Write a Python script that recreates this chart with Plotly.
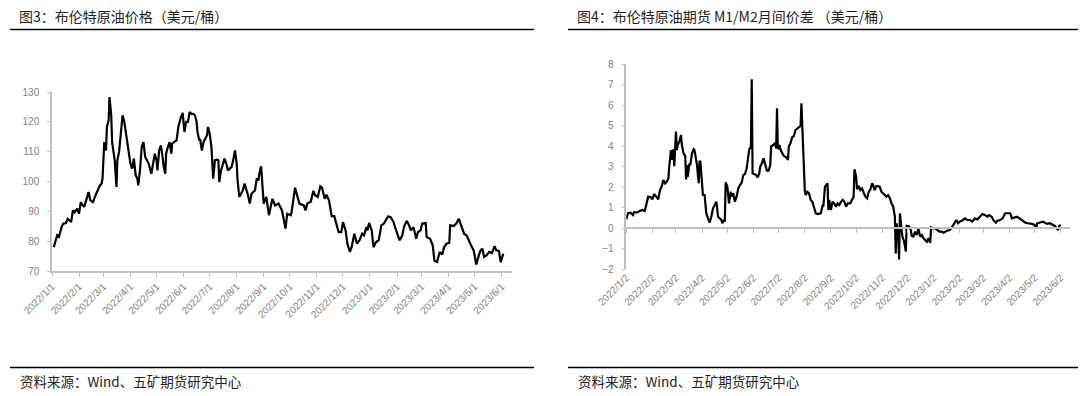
import plotly.graph_objects as go

# ---------------- data ----------------
brent_dates = [
    "2022-01-03","2022-01-05","2022-01-07","2022-01-09","2022-01-11","2022-01-12","2022-01-14","2022-01-17",
    "2022-01-19","2022-01-21","2022-01-23","2022-01-25","2022-01-27","2022-01-30","2022-02-01","2022-02-03",
    "2022-02-04","2022-02-07","2022-02-09","2022-02-12","2022-02-14","2022-02-17","2022-02-20","2022-02-22",
    "2022-02-25","2022-02-27","2022-02-28","2022-03-02","2022-03-04","2022-03-05","2022-03-07","2022-03-08",
    "2022-03-10","2022-03-11","2022-03-13","2022-03-14","2022-03-16","2022-03-17","2022-03-19","2022-03-21",
    "2022-03-23","2022-03-25","2022-03-27","2022-03-28","2022-03-30","2022-04-01","2022-04-03","2022-04-05",
    "2022-04-07","2022-04-09","2022-04-10","2022-04-12","2022-04-14","2022-04-16","2022-04-18","2022-04-20",
    "2022-04-22","2022-04-25","2022-04-27","2022-04-29","2022-05-01","2022-05-02","2022-05-04","2022-05-06",
    "2022-05-08","2022-05-09","2022-05-11","2022-05-12","2022-05-14","2022-05-16","2022-05-18","2022-05-19",
    "2022-05-21","2022-05-24","2022-05-26","2022-05-28","2022-05-29","2022-05-31","2022-06-02","2022-06-04",
    "2022-06-06","2022-06-08","2022-06-10","2022-06-12","2022-06-14","2022-06-16","2022-06-17","2022-06-19",
    "2022-06-20","2022-06-22","2022-06-24","2022-06-26","2022-06-28","2022-06-29","2022-07-01","2022-07-03",
    "2022-07-05","2022-07-07","2022-07-09","2022-07-11","2022-07-12","2022-07-14","2022-07-16","2022-07-18",
    "2022-07-20","2022-07-22","2022-07-24","2022-07-26","2022-07-28","2022-07-30","2022-08-01","2022-08-02",
    "2022-08-04","2022-08-06","2022-08-08","2022-08-10","2022-08-12","2022-08-14","2022-08-16","2022-08-18",
    "2022-08-20","2022-08-22","2022-08-24","2022-08-26","2022-08-27","2022-08-29","2022-09-01","2022-09-04",
    "2022-09-07","2022-09-11","2022-09-14","2022-09-18","2022-09-22","2022-09-26","2022-09-28","2022-10-02",
    "2022-10-03","2022-10-07","2022-10-12","2022-10-17","2022-10-19","2022-10-21","2022-10-25","2022-10-28",
    "2022-10-30","2022-11-02","2022-11-05","2022-11-07","2022-11-10","2022-11-12","2022-11-15","2022-11-18",
    "2022-11-21","2022-11-23","2022-11-26","2022-11-29","2022-12-01","2022-12-04","2022-12-06","2022-12-09",
    "2022-12-11","2022-12-14","2022-12-17","2022-12-20","2022-12-23","2022-12-25","2022-12-28","2022-12-29",
    "2022-12-31","2023-01-03","2023-01-05","2023-01-08","2023-01-11","2023-01-14","2023-01-17","2023-01-20",
    "2023-01-22","2023-01-25","2023-01-28","2023-01-31","2023-02-04","2023-02-07","2023-02-09","2023-02-12",
    "2023-02-14","2023-02-17","2023-02-20","2023-02-23","2023-02-25","2023-02-28","2023-03-02","2023-03-06",
    "2023-03-07","2023-03-11","2023-03-14","2023-03-16","2023-03-19","2023-03-22","2023-03-25","2023-03-27",
    "2023-03-30","2023-04-02","2023-04-03","2023-04-07","2023-04-10","2023-04-13","2023-04-15","2023-04-17",
    "2023-04-19","2023-04-22","2023-04-25","2023-04-27","2023-04-30","2023-05-03","2023-05-06","2023-05-08",
    "2023-05-10","2023-05-12","2023-05-15","2023-05-18","2023-05-21","2023-05-24","2023-05-26","2023-05-29",
    "2023-05-31","2023-06-03",
]
brent_price = [
    78.0,80.3,82.0,81.5,83.9,84.7,85.9,86.1,
    87.5,87.0,86.4,90.3,89.7,90.9,89.2,93.1,
    92.5,91.5,93.7,96.5,93.7,93.1,95.4,97.0,
    98.7,99.3,101.0,113.2,110.4,118.3,120.5,128.3,
    122.2,113.2,109.9,107.1,98.2,107.1,109.9,116.0,
    122.2,120.0,115.5,113.2,110.4,106.0,104.3,107.7,
    102.1,101.0,98.7,103.7,111.6,113.2,108.2,107.3,
    106.0,102.6,106.0,109.3,107.1,103.7,110.4,112.1,
    108.2,105.4,102.6,109.3,111.6,113.2,109.3,112.7,
    113.2,113.8,118.3,121.1,121.6,123.0,116.6,120.0,
    120.0,123.3,122.7,122.7,122.2,120.0,116.6,113.8,
    114.2,110.4,113.2,114.4,115.5,118.3,116.0,111.6,
    101.0,107.1,107.3,107.1,99.8,103.7,106.0,107.7,
    106.0,103.7,104.3,104.8,107.1,110.4,106.0,100.4,
    94.8,95.9,97.0,99.3,97.6,95.4,92.6,95.9,
    96.5,97.0,101.0,100.4,102.6,105.1,92.6,94.8,
    88.7,94.2,92.0,92.6,90.3,84.2,89.2,88.7,
    89.8,97.9,92.6,92.0,90.3,92.6,93.2,96.8,
    95.4,94.8,98.4,97.9,94.2,95.6,93.6,88.4,
    88.4,85.9,83.0,83.0,86.4,83.6,79.2,76.4,
    78.1,82.5,79.2,80.3,82.5,81.9,84.7,83.6,
    86.1,83.6,78.0,79.7,80.3,85.3,85.9,87.5,
    88.3,88.0,86.4,83.6,80.3,81.9,84.7,86.8,
    85.9,83.6,84.7,80.8,83.0,83.6,85.9,86.1,
    81.4,80.8,78.6,73.4,73.0,76.4,75.5,78.0,
    79.2,79.4,85.3,85.1,85.9,87.5,85.9,84.2,
    82.5,81.9,79.7,78.6,76.9,72.2,75.3,76.9,
    77.5,74.7,75.3,76.4,76.0,78.3,76.9,76.7,
    73.0,75.8,
]

spread_dates = [
    "2022-01-02","2022-01-04","2022-01-07","2022-01-10","2022-01-11","2022-01-15","2022-01-18","2022-01-21",
    "2022-01-24","2022-01-26","2022-01-28","2022-01-31","2022-02-02","2022-02-04","2022-02-07","2022-02-09",
    "2022-02-11","2022-02-13","2022-02-15","2022-02-17","2022-02-19","2022-02-21","2022-02-22","2022-02-24",
    "2022-02-25","2022-02-27","2022-02-28","2022-03-02","2022-03-03","2022-03-04","2022-03-06","2022-03-08",
    "2022-03-09","2022-03-11","2022-03-13","2022-03-14","2022-03-15","2022-03-16","2022-03-18","2022-03-19",
    "2022-03-21","2022-03-23","2022-03-24","2022-03-26","2022-03-27","2022-03-29","2022-03-30","2022-03-31",
    "2022-04-02","2022-04-03","2022-04-05","2022-04-06","2022-04-07","2022-04-09","2022-04-11","2022-04-13",
    "2022-04-15","2022-04-17","2022-04-19","2022-04-21","2022-04-23","2022-04-25","2022-04-26","2022-04-28",
    "2022-04-29","2022-04-30","2022-05-02","2022-05-04","2022-05-06","2022-05-07","2022-05-09","2022-05-11",
    "2022-05-13","2022-05-15","2022-05-17","2022-05-19","2022-05-21","2022-05-23","2022-05-25","2022-05-26",
    "2022-05-28","2022-05-30","2022-05-31","2022-06-01","2022-06-03","2022-06-05","2022-06-07","2022-06-09",
    "2022-06-10","2022-06-12","2022-06-14","2022-06-16","2022-06-18","2022-06-20","2022-06-22","2022-06-23",
    "2022-06-26","2022-06-28","2022-06-29","2022-06-30","2022-07-01","2022-07-03","2022-07-04","2022-07-06",
    "2022-07-08","2022-07-11","2022-07-13","2022-07-14","2022-07-16","2022-07-18","2022-07-20","2022-07-22",
    "2022-07-24","2022-07-27","2022-07-28","2022-07-29","2022-07-30","2022-08-01","2022-08-02","2022-08-03",
    "2022-08-05","2022-08-07","2022-08-09","2022-08-11","2022-08-13","2022-08-15","2022-08-17","2022-08-19",
    "2022-08-21","2022-08-23","2022-08-24","2022-08-26","2022-08-28","2022-08-29","2022-08-30","2022-08-31",
    "2022-09-02","2022-09-04","2022-09-06","2022-09-08","2022-09-10","2022-09-12","2022-09-14","2022-09-16",
    "2022-09-18","2022-09-20","2022-09-22","2022-09-25","2022-09-27","2022-09-29","2022-09-30","2022-10-02",
    "2022-10-03","2022-10-05","2022-10-07","2022-10-09","2022-10-11","2022-10-13","2022-10-15","2022-10-17",
    "2022-10-19","2022-10-21","2022-10-22","2022-10-24","2022-10-26","2022-10-28","2022-10-30","2022-11-01",
    "2022-11-03","2022-11-05","2022-11-07","2022-11-09","2022-11-11","2022-11-13","2022-11-15","2022-11-17",
    "2022-11-18","2022-11-19","2022-11-21","2022-11-22","2022-11-23","2022-11-25","2022-11-26","2022-11-28",
    "2022-11-30","2022-12-01","2022-12-02","2022-12-04","2022-12-06","2022-12-07","2022-12-09","2022-12-11",
    "2022-12-13","2022-12-15","2022-12-17","2022-12-19","2022-12-21","2022-12-23","2022-12-25","2022-12-27",
    "2022-12-29","2022-12-30","2023-01-01","2023-01-04","2023-01-06","2023-01-09","2023-01-12","2023-01-14",
    "2023-01-18","2023-01-21","2023-01-23","2023-01-25","2023-01-27","2023-01-29","2023-01-31","2023-02-02",
    "2023-02-06","2023-02-08","2023-02-11","2023-02-14","2023-02-17","2023-02-20","2023-02-23","2023-02-26",
    "2023-03-01","2023-03-04","2023-03-07","2023-03-09","2023-03-12","2023-03-14","2023-03-17","2023-03-19",
    "2023-03-22","2023-03-25","2023-03-28","2023-03-31","2023-04-03","2023-04-05","2023-04-08","2023-04-11",
    "2023-04-14","2023-04-16","2023-04-19","2023-04-21","2023-04-24","2023-04-27","2023-04-29","2023-05-02",
    "2023-05-04","2023-05-05","2023-05-08","2023-05-12","2023-05-14","2023-05-17","2023-05-20","2023-05-23",
    "2023-05-26","2023-05-28","2023-05-30","2023-05-31","2023-06-02",
]
spread_value = [
    0.42,0.72,0.75,0.63,0.76,0.76,0.83,0.88,
    0.83,1.20,1.53,1.50,1.40,1.66,1.50,1.40,
    1.85,2.02,2.34,2.18,2.26,2.42,2.99,3.80,
    3.32,3.84,3.02,4.70,3.80,4.05,4.21,4.54,
    4.05,3.64,3.51,2.37,3.07,2.50,3.15,3.07,
    3.64,3.84,3.80,3.32,3.07,2.18,3.24,3.24,
    2.02,1.61,1.61,1.12,0.72,0.47,0.26,0.55,
    0.96,1.12,1.28,0.55,0.47,0.39,0.23,0.36,
    0.31,2.23,2.02,1.20,1.77,1.53,1.69,1.28,
    1.53,1.93,2.10,2.21,2.59,2.63,2.91,3.32,
    3.84,3.97,7.25,2.67,2.64,2.59,2.47,2.67,
    2.99,3.15,3.40,3.07,2.80,2.80,3.07,3.97,
    4.05,4.13,3.89,5.84,3.84,4.05,3.84,3.64,
    3.51,3.45,3.32,3.97,4.13,4.42,4.49,4.78,
    4.86,4.94,4.98,6.08,4.94,3.07,1.85,1.61,
    1.77,1.69,1.37,1.28,1.04,0.72,0.68,0.72,
    0.72,1.07,1.04,2.02,2.15,2.18,0.88,1.37,
    0.88,1.28,1.20,1.04,1.20,1.12,1.28,1.37,
    1.28,1.04,1.20,1.20,1.37,1.53,2.86,2.50,
    1.89,2.05,1.85,1.93,1.72,1.53,1.45,1.77,
    1.89,2.18,2.10,1.85,2.05,2.02,2.02,1.77,
    1.69,1.66,1.53,1.60,1.45,1.20,1.04,0.55,
    -1.24,0.23,-0.42,-1.53,0.72,-0.10,-0.42,-0.67,
    -1.15,0.10,0.10,0.07,-0.10,-0.39,-0.42,-0.18,
    -0.34,-0.02,-0.42,-0.34,-0.50,-0.59,-0.67,-0.50,
    -0.72,0.03,-0.02,-0.02,-0.10,-0.18,-0.18,-0.23,
    -0.13,-0.10,-0.02,0.10,0.23,0.39,0.23,0.31,
    0.39,0.47,0.39,0.39,0.31,0.47,0.42,0.55,
    0.68,0.63,0.55,0.63,0.55,0.39,0.26,0.36,
    0.39,0.47,0.72,0.72,0.72,0.47,0.50,0.55,
    0.47,0.42,0.31,0.26,0.23,0.23,0.20,0.15,
    -0.02,0.23,0.26,0.31,0.26,0.20,0.23,0.15,
    0.10,-0.02,-0.10,0.10,0.15,
]

title_left = "图3：布伦特原油价格（美元/桶）"
title_right = "图4：布伦特原油期货 M1/M2月间价差 （美元/桶）"
source_text = "资料来源：Wind、五矿期货研究中心"

# ---------------- styling ----------------
W, H = 1080, 396
CJK = "Noto Sans CJK SC"
AX_FONT = dict(family="Liberation Sans, Arial", size=10, color="#7f7f7f")
AX_COLOR = "#bfbfbf"

def px_x(x):
    return x / W

def px_y(y):
    return 1 - y / H

fig = go.Figure()

fig.add_trace(go.Scatter(
    x=brent_dates, y=brent_price, mode="lines",
    line=dict(color="#000000", width=2.2), xaxis="x", yaxis="y",
    showlegend=False, hoverinfo="x+y"))

fig.add_trace(go.Scatter(
    x=spread_dates, y=spread_value, mode="lines",
    line=dict(color="#000000", width=2.2), xaxis="x2", yaxis="y2",
    showlegend=False, hoverinfo="x+y"))

# helper trace to carry the bottom tick labels of the right chart
fig.add_trace(go.Scatter(
    x=spread_dates[:1], y=spread_value[:1], mode="none",
    xaxis="x3", yaxis="y2", showlegend=False, hoverinfo="skip"))

left_dom_x = [px_x(52), px_x(512)]
left_dom_y = [px_y(271), px_y(92)]
right_dom_x = [px_x(626.3), px_x(1070)]
right_dom_y = [px_y(269), px_y(64)]
zero_pos = px_y(228)

common_x = dict(
    type="date", dtick="M1", tickformat="%Y/%-m/%-d", tickangle=-45,
    tickfont=AX_FONT, showgrid=False, zeroline=False, automargin=False,
)

fig.update_layout(
    width=W, height=H,
    margin=dict(l=0, r=0, t=0, b=0, autoexpand=False),
    paper_bgcolor="white", plot_bgcolor="white",
    showlegend=False,
    xaxis=dict(
        **common_x, domain=left_dom_x, anchor="y",
        range=["2022-01-01", "2023-06-13"], tick0="2022-01-01",
        showline=True, linecolor=AX_COLOR, linewidth=1.5,
        ticks="outside", ticklen=4, tickcolor=AX_COLOR, tickwidth=1,
    ),
    yaxis=dict(
        domain=left_dom_y, anchor="x", range=[70, 130], dtick=10,
        showline=True, linecolor=AX_COLOR, linewidth=1.5,
        ticks="outside", ticklen=3, tickcolor=AX_COLOR,
        tickfont=AX_FONT, showgrid=False, zeroline=False,
        ticklabelstandoff=6, automargin=False,
    ),
    xaxis2=dict(
        **common_x, domain=right_dom_x, anchor="free", position=zero_pos,
        range=["2022-01-02", "2023-06-13"], tick0="2022-01-02",
        showline=True, linecolor=AX_COLOR, linewidth=1.5,
        ticks="outside", ticklen=4, tickcolor=AX_COLOR,
        showticklabels=False,
    ),
    xaxis3=dict(
        **common_x, domain=right_dom_x, anchor="free", position=right_dom_y[0],
        overlaying="x2", matches="x2",
        range=["2022-01-02", "2023-06-13"], tick0="2022-01-02",
        showline=False, ticks="", showticklabels=True,
    ),
    yaxis2=dict(
        domain=right_dom_y, anchor="x2", range=[-2, 8], dtick=1,
        showline=True, linecolor=AX_COLOR, linewidth=1.5,
        ticks="outside", ticklen=3, tickcolor=AX_COLOR,
        tickfont=AX_FONT, showgrid=False, zeroline=False,
        ticklabelstandoff=6, automargin=False,
    ),
)

# titles and source notes
TITLE_FONT = dict(family=CJK, size=14, color="#222222")
SRC_FONT = dict(family=CJK, size=13.5, color="#222222")
fig.add_annotation(text=title_left, x=px_x(17), y=px_y(16), xref="paper", yref="paper",
                   xanchor="left", yanchor="middle", showarrow=False, font=TITLE_FONT)
fig.add_annotation(text=title_right, x=px_x(575), y=px_y(16), xref="paper", yref="paper",
                   xanchor="left", yanchor="middle", showarrow=False, font=TITLE_FONT)
fig.add_annotation(text=source_text, x=px_x(18), y=px_y(381), xref="paper", yref="paper",
                   xanchor="left", yanchor="middle", showarrow=False, font=SRC_FONT)
fig.add_annotation(text=source_text, x=px_x(576), y=px_y(381), xref="paper", yref="paper",
                   xanchor="left", yanchor="middle", showarrow=False, font=SRC_FONT)

# rule lines under titles and above source notes
for x0, x1 in [(10, 534), (568, 1078)]:
    for yy in (29.5, 367.5):
        fig.add_shape(type="line", xref="paper", yref="paper",
                      x0=px_x(x0), x1=px_x(x1), y0=px_y(yy), y1=px_y(yy),
                      line=dict(color="#000000", width=1.5))

fig.write_html(
    "out.html",
    config={"displayModeBar": False},
    post_script="document.body.style.margin='0';document.body.style.padding='0';"
                "document.body.style.overflow='hidden';",
)
